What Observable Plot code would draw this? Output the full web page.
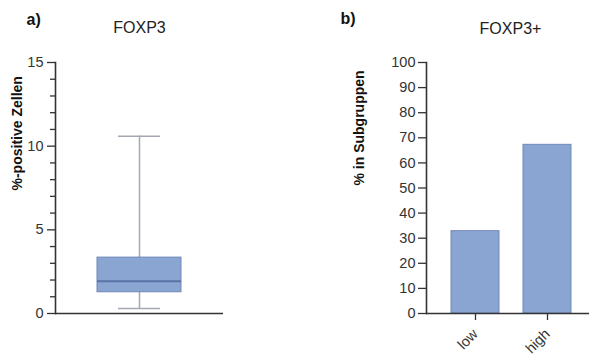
<!DOCTYPE html>
<html>
<head>
<meta charset="utf-8">
<script src="https://cdn.jsdelivr.net/npm/d3@7"></script>
<script src="https://cdn.jsdelivr.net/npm/@observablehq/plot@0.6"></script>
<style>
  html, body { margin: 0; padding: 0; background: #fff; }
  #wrap { position: relative; width: 589px; height: 358px; overflow: hidden; font-family: "Liberation Sans", Arial, sans-serif; }
  #wrap svg { position: absolute; top: 0; overflow: visible; }
</style>
</head>
<body>
<div id="wrap"></div>
<script>
// Panel a: FOXP3 distribution (box plot summary)
const boxGroups = ["FOXP3"];
const boxMin = [0.3];
const boxQ1 = [1.27];
const boxMedian = [1.93];
const boxQ3 = [3.34];
const boxMax = [10.6];
const boxMajorTicks = [0, 5, 10, 15];
const boxMinorTicks = [1, 2, 3, 4, 6, 7, 8, 9, 11, 12, 13, 14];

// Panel b: FOXP3+ share per subgroup
const subgroups = ["low", "high"];
const subgroupShare = [32.8, 67.2];
const shareTicks = [0, 10, 20, 30, 40, 50, 60, 70, 80, 90, 100];

const fillBlue = "#8ba5d3";
const strokeBlue = "#6f88b7";
const axisColor = "#333333";
const font = "Liberation Sans, Arial, sans-serif";

const boxes = boxGroups.map((g, i) => ({
  group: g, min: boxMin[i], q1: boxQ1[i], median: boxMedian[i], q3: boxQ3[i], max: boxMax[i]
}));
const bars = subgroups.map((g, i) => ({group: g, value: subgroupShare[i]}));

const left = Plot.plot({
  width: 295,
  height: 358,
  marginLeft: 55,
  marginRight: 72,
  marginTop: 62,
  marginBottom: 45,
  style: {fontFamily: font, fontSize: "14px", color: axisColor, background: "transparent"},
  x: {type: "band", domain: boxGroups, paddingInner: 0, paddingOuter: 0.5, axis: null},
  y: {domain: [0, 15], axis: null},
  marks: [
    Plot.ruleX(boxes, {x: "group", y1: "min", y2: "max", stroke: "#a3a7b1", strokeWidth: 1.5}),
    Plot.tickY(boxes, {x: "group", y: "min", stroke: "#a3a7b1", strokeWidth: 1.5, insetLeft: 21, insetRight: 21}),
    Plot.tickY(boxes, {x: "group", y: "max", stroke: "#a3a7b1", strokeWidth: 1.5, insetLeft: 21, insetRight: 21}),
    Plot.barY(boxes, {x: "group", y1: "q1", y2: "q3", fill: fillBlue, stroke: strokeBlue, strokeWidth: 1}),
    Plot.tickY(boxes, {x: "group", y: "median", stroke: "#5873a4", strokeWidth: 2}),
    Plot.axisY({ticks: boxMajorTicks, tickSize: 8, tickPadding: 4, stroke: axisColor, strokeWidth: 1.3, fill: axisColor, fontSize: 14.5, label: null}),
    Plot.axisY({ticks: boxMinorTicks, tickSize: 5, tickFormat: () => "", stroke: axisColor, strokeWidth: 1.3, label: null}),
    Plot.frame({anchor: "left", stroke: axisColor, strokeWidth: 1.6}),
    Plot.ruleY([0], {stroke: axisColor, strokeWidth: 1.6}),
    Plot.text(["FOXP3"], {frameAnchor: "top", dy: -30, lineAnchor: "bottom", fontSize: 16, fill: "#222"}),
    Plot.text(["a)"], {frameAnchor: "top-left", dx: -29, dy: -38, lineAnchor: "bottom", textAnchor: "start", fontSize: 16, fontWeight: "bold", fill: "#111"}),
    Plot.text(["%-positive Zellen"], {frameAnchor: "left", rotate: -90, dx: -38, dy: 2.5, fontSize: 14, fontWeight: "bold", fill: "#111"})
  ]
});
left.style.left = "0px";

const right = Plot.plot({
  width: 300,
  height: 358,
  marginLeft: 131,
  marginRight: 0,
  marginTop: 62,
  marginBottom: 45,
  style: {fontFamily: font, fontSize: "14px", color: axisColor, background: "transparent"},
  x: {type: "band", domain: subgroups, paddingInner: 0.335, paddingOuter: 0.33, axis: null},
  y: {domain: [0, 100], axis: null},
  marks: [
    Plot.barY(bars, {x: "group", y: "value", fill: fillBlue, stroke: strokeBlue, strokeWidth: 1}),
    Plot.axisY({ticks: shareTicks, tickSize: 8, tickPadding: 3, stroke: axisColor, strokeWidth: 1.3, fill: axisColor, fontSize: 14.5, label: null}),
    Plot.axisX({tickSize: 7, tickPadding: 11, tickRotate: -45, stroke: axisColor, strokeWidth: 1.3, fill: axisColor, fontSize: 14.5, label: null}),
    Plot.frame({anchor: "left", stroke: axisColor, strokeWidth: 1.6}),
    Plot.ruleY([0], {stroke: axisColor, strokeWidth: 1.6}),
    Plot.text(["FOXP3+"], {frameAnchor: "top-left", dx: 84, dy: -29, lineAnchor: "bottom", textAnchor: "middle", fontSize: 16, fill: "#222"}),
    Plot.text(["b)"], {frameAnchor: "top-left", dx: -86, dy: -39, lineAnchor: "bottom", textAnchor: "start", fontSize: 16, fontWeight: "bold", fill: "#111"}),
    Plot.text(["% in Subgruppen"], {frameAnchor: "left", rotate: -90, dx: -67, dy: -2.5, fontSize: 14, fontWeight: "bold", fill: "#111"})
  ]
});
right.style.left = "295px";

const wrap = document.getElementById("wrap");
wrap.appendChild(left);
wrap.appendChild(right);
</script>
</body>
</html>
